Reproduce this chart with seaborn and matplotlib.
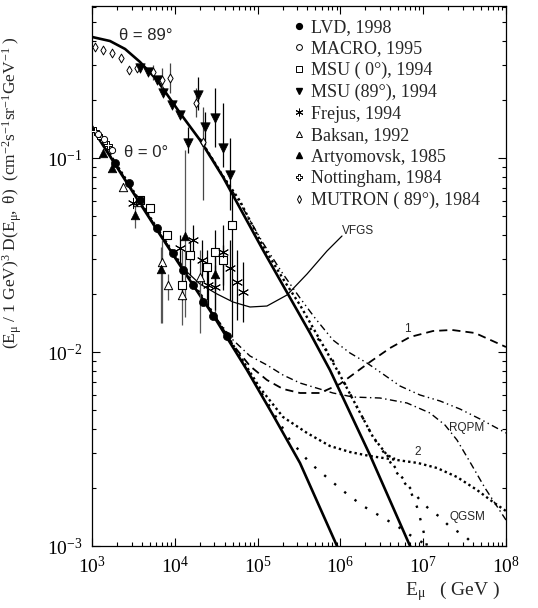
import numpy as np
import matplotlib
matplotlib.use("Agg")
import matplotlib.pyplot as plt
import seaborn as sns
from matplotlib.lines import Line2D
from matplotlib.ticker import LogLocator, NullFormatter

# ---------------- model curves (E in GeV, F = (E/1GeV)^3 D) ----------------
conv89_E = [1000, 1650, 2506, 3802, 6095, 11560, 20140, 38190, 116100, 429500, 748200, 2275000, 6934000, 8650000]
conv89_F = [0.4207, 0.4009, 0.3648, 0.3126, 0.2523, 0.1706, 0.1238, 0.0798, 0.03355, 0.01253, 0.00807, 0.002944, 0.001, 0.000888]

conv0_E = [1000, 2178, 6095, 12560, 28910, 74470, 153500, 325100, 909900, 1045000]
conv0_F = [0.1428, 0.0847, 0.04256, 0.02648, 0.01552, 0.00807, 0.004732, 0.002678, 0.001, 0.000888]

vfgs_E = [10050, 14030, 20140, 32360, 50470, 80910, 129700, 226500, 395400, 688700, 1045000]
vfgs_F = [0.03051, 0.02585, 0.02241, 0.01991, 0.01810, 0.01706, 0.01726, 0.01967, 0.02524, 0.03316, 0.03962]

m1_E = [1000, 6095, 20140, 33270, 50470, 80910, 129700, 202800, 325100, 567500, 988600, 1500000,
        2275000, 3972000, 6934000, 13130000, 22280000, 42270000, 100000000]
m1_F = [0.1445, 0.04305, 0.01967, 0.01445, 0.01087, 0.008468, 0.007172, 0.006447, 0.006148, 0.006148,
        0.006842, 0.007793, 0.008882, 0.01048, 0.01195, 0.01283, 0.01299, 0.01253, 0.01061]

rqpm0_E = [1000, 6095, 28910, 50470, 80910, 129700, 202800, 325100, 812800, 1419000, 3006000, 6368000,
           12080000, 18320000, 25590000, 36730000, 55720000, 100000000]
rqpm0_F = [0.1445, 0.04305, 0.01570, 0.01153, 0.009537, 0.008570, 0.007609, 0.006921, 0.006148, 0.005861,
           0.005792, 0.005459, 0.004849, 0.004204, 0.003518, 0.002710, 0.001991, 0.001361]

rqpm89_E = [20140, 38190, 61240, 116100, 202800, 325100, 493300, 812800, 1306000, 2094000, 3266000,
            5248000, 9141000, 15960000, 27800000, 48530000, 100000000]
rqpm89_F = [0.1253, 0.08072, 0.05861, 0.03646, 0.02524, 0.01899, 0.01497, 0.01153, 0.009881, 0.008777,
            0.007700, 0.006679, 0.006004, 0.005591, 0.005083, 0.004515, 0.003824]

m2_0_E = [1000, 6095, 28910, 61240, 106900, 202800, 395400, 748200, 1306000, 2275000, 4831000, 8650000,
          14690000, 25590000, 44670000, 69660000, 100000000]
m2_0_F = [0.1462, 0.04357, 0.01589, 0.009537, 0.006523, 0.004623, 0.003824, 0.003276, 0.003051, 0.002909,
          0.002775, 0.002678, 0.002524, 0.002268, 0.001944, 0.001686, 0.001514]

m2_89_E = [20140, 38190, 61240, 116100, 214300, 325100, 567500, 988600, 1585000, 2477000, 3656000, 4560000]
m2_89_F = [0.1253, 0.08072, 0.06004, 0.03518, 0.02295, 0.01747, 0.01153, 0.007609, 0.005205, 0.003646,
           0.002944, 0.002809]

qgsm89_E = [429500, 748200, 1074000, 1585000, 2477000, 3656000, 4831000, 6934000, 8414000, 9661000, 11110000, 12080000]
qgsm89_F = [0.01330, 0.009649, 0.007172, 0.005205, 0.003646, 0.002876, 0.002378, 0.001944, 0.001589,
            0.001283, 0.001, 0.000888]

qgsm_E = [3656000, 4966000, 6934000, 9141000, 12080000, 15960000, 21090000, 27800000, 33810000, 42270000, 48530000]
qgsm_F = [0.002944, 0.002406, 0.001991, 0.001726, 0.001533, 0.001411, 0.001253, 0.001167, 0.001099, 0.001, 0.000931]

qgsm0_E = [20140, 61240, 80910, 141300, 246000, 429500, 748200, 1202000, 1875000, 3006000, 4831000,
           6934000, 9141000, 11430000, 13490000]
qgsm0_F = [0.01991, 0.009423, 0.007700, 0.005205, 0.003518, 0.002678, 0.002188, 0.001854, 0.001608,
           0.001428, 0.001268, 0.001139, 0.001061, 0.001, 0.000931]

# ---------------- experimental data ----------------
lvd_E = [1897, 2799, 3802, 6095, 9506, 12560, 16600, 21930, 28910, 42660]
lvd_F = [0.09423, 0.07430, 0.06075, 0.04357, 0.03238, 0.02648, 0.02215, 0.01810, 0.01533, 0.01209]

macro_E = [1181, 1396, 1745]
macro_F = [0.1330, 0.1253, 0.1100]

notting_E = [1087, 1285, 1560]
notting_F = [0.1377, 0.1268, 0.1167]

artyom_E = [1358, 1745, 3304, 6808, 13270, 30550]
artyom_F = [0.1061, 0.08882, 0.05083, 0.02679, 0.03962, 0.02524]
artyom_lo = [0.1061, 0.08882, 0.04357, 0.01411, 0.01515, 0.01515]
artyom_hi = [0.1061, 0.08882, 0.05723, 0.03477, 0.1100, 0.03088]

baksan_E = [2366, 3491, 6998, 8279, 12220, 20140]
baksan_F = [0.07087, 0.05933, 0.02909, 0.02215, 0.01967, 0.02435]
baksan_lo = [0.07087, 0.05933, 0.01411, 0.01854, 0.01378, 0.01253]
baksan_hi = [0.07087, 0.05933, 0.03778, 0.02524, 0.03355, 0.03355]

msu0_E = [3802, 5012, 8054, 12220, 15280, 24490, 30550, 38190, 49090]
msu0_F = [0.06075, 0.05525, 0.04008, 0.02215, 0.03162, 0.02741, 0.03277, 0.02979, 0.04515]
msu0_lo = [0.06075, 0.05525, 0.04008, 0.01854, 0.02494, 0.01854, 0.02087, 0.02215, 0.01195]
msu0_hi = [0.06075, 0.05525, 0.04008, 0.02648, 0.03778, 0.03355, 0.04256, 0.03559, 0.06447]

frejus_E = [3126, 11560, 16600, 21280, 25180, 30550, 38190, 46450, 56360, 66680]
frejus_F = [0.05861, 0.03437, 0.03778, 0.02979, 0.02215, 0.02163, 0.03277, 0.02710, 0.02295, 0.02038]
frejus_lo = [0.05861, 0.02809, 0.02979, 0.02215, 0.01747, 0.01646, 0.02087, 0.01854, 0.01462, 0.01428]
frejus_hi = [0.05861, 0.04008, 0.04515, 0.03778, 0.02809, 0.02809, 0.04515, 0.03778, 0.03355, 0.02909]

msu89_E = [3802, 4742, 6095, 7194, 9247, 11560, 14420, 19050, 23170, 30550, 38190, 46450]
msu89_F = [0.2910, 0.2775, 0.2523, 0.2163, 0.1876, 0.1665, 0.1195, 0.2112, 0.1445, 0.1607, 0.1126, 0.08175]
msu89_lo = [0.2910, 0.2775, 0.2523, 0.2163, 0.1876, 0.1665, 0.1061, 0.1768, 0.1167, 0.1139, 0.08986, 0.05395]
msu89_hi = [0.2910, 0.2775, 0.2523, 0.2163, 0.1876, 0.1665, 0.1445, 0.2615, 0.1726, 0.2295, 0.1921, 0.1268]

mutron_E = [1087, 1358, 1745, 2239, 2799, 3491, 5458, 6998, 8750, 18030, 21930]
mutron_F = [0.3734, 0.3603, 0.3477, 0.3278, 0.2842, 0.2910, 0.2775, 0.2523, 0.2585, 0.1921, 0.1209]
mutron_lo = [0.3734, 0.3603, 0.3477, 0.3278, 0.2842, 0.2910, 0.2523, 0.2188, 0.2163, 0.1627, 0.06075]
mutron_hi = [0.3734, 0.3603, 0.3477, 0.3278, 0.2842, 0.2910, 0.3016, 0.2910, 0.3088, 0.2295, 0.1832]

legend_labels = ["LVD, 1998", "MACRO, 1995", "MSU ( 0°), 1994", "MSU (89°), 1994", "Frejus, 1994",
                 "Baksan, 1992", "Artyomovsk, 1985", "Nottingham, 1984", "MUTRON ( 89°), 1984"]

# ---------------- style ----------------
sns.set_theme(style="ticks")
plt.rcParams["font.family"] = ["Liberation Serif", "DejaVu Serif"]
plt.rcParams["mathtext.fontset"] = "custom"
plt.rcParams["mathtext.rm"] = "Liberation Serif"
plt.rcParams["mathtext.it"] = "Liberation Serif:italic"
plt.rcParams["mathtext.sf"] = "Liberation Sans"
plt.rcParams["axes.unicode_minus"] = False

fig = plt.figure(figsize=(5.38, 6.08), dpi=100)
ax = fig.add_axes([92 / 538, 1 - 546 / 608, 414 / 538, 540 / 608])
ax.set_xscale("log")
ax.set_yscale("log")
ax.set_xlim(1e3, 1e8)
ax.set_ylim(1e-3, 0.6075)


def curve(E, F, **kw):
    sns.lineplot(x=E, y=F, ax=ax, estimator=None, sort=False, color="black", legend=False, **kw)


curve(conv89_E, conv89_F, linewidth=1.9)
curve(conv0_E, conv0_F, linewidth=1.9)
curve(vfgs_E, vfgs_F, linewidth=0.9)
curve(m1_E, m1_F, linewidth=1.3, linestyle=(0, (4.5, 2.8)))
curve(rqpm0_E, rqpm0_F, linewidth=1.0, linestyle=(0, (5, 2.5, 1, 2.5)))
curve(rqpm89_E, rqpm89_F, linewidth=1.0, linestyle=(0, (5, 2.5, 1, 2.5, 1, 2.5)))
curve(m2_0_E, m2_0_F, linewidth=1.7, linestyle=(0, (1, 1.3)))
curve(m2_89_E, m2_89_F, linewidth=1.7, linestyle=(0, (1, 1.3)))
curve(qgsm89_E, qgsm89_F, linewidth=1.7, linestyle=(0, (1, 4.5)))
curve(qgsm_E, qgsm_F, linewidth=1.7, linestyle=(0, (1, 4.5)))
curve(qgsm0_E, qgsm0_F, linewidth=1.7, linestyle=(0, (1, 4.5)))

# error bars
for E, lo, hi, col in [(artyom_E, artyom_lo, artyom_hi, "#555555"),
                       (baksan_E, baksan_lo, baksan_hi, "#555555"),
                       (msu0_E, msu0_lo, msu0_hi, "black"),
                       (frejus_E, frejus_lo, frejus_hi, "black"),
                       (msu89_E, msu89_lo, msu89_hi, "black"),
                       (mutron_E, mutron_lo, mutron_hi, "#444444")]:
    ax.vlines(E, lo, hi, colors=col, linewidth=0.9, zorder=2)

sc = dict(ax=ax, legend=False, zorder=4)
sns.scatterplot(x=mutron_E, y=mutron_F, marker="d", s=20, color="white", edgecolor="black", linewidth=0.7, **sc)
sns.scatterplot(x=notting_E, y=notting_F, marker="P", s=26, color="white", edgecolor="black", linewidth=0.7, **sc)
sns.scatterplot(x=macro_E, y=macro_F, marker="o", s=20, color="white", edgecolor="black", linewidth=0.7, **sc)
sns.scatterplot(x=baksan_E, y=baksan_F, marker="^", s=36, color="white", edgecolor="black", linewidth=0.7, **sc)
sns.scatterplot(x=msu0_E, y=msu0_F, marker="s", s=36, color="white", edgecolor="black", linewidth=0.8, **sc)
sns.scatterplot(x=frejus_E, y=frejus_F, marker=(6, 2, 0), s=55, color="black", linewidth=0.7, **sc)
sns.scatterplot(x=artyom_E, y=artyom_F, marker="^", s=38, color="black", edgecolor="black", linewidth=0.5, **sc)
sns.scatterplot(x=msu89_E, y=msu89_F, marker="v", s=46, color="black", edgecolor="black", linewidth=0.5, **sc)
sns.scatterplot(x=lvd_E, y=lvd_F, marker="o", s=34, color="black", edgecolor="black", linewidth=0.5, **sc)

# ---------------- axes cosmetics ----------------
ax.xaxis.set_major_locator(LogLocator(base=10, numticks=12))
ax.xaxis.set_minor_locator(LogLocator(base=10, subs=np.arange(2, 10), numticks=100))
ax.yaxis.set_major_locator(LogLocator(base=10, numticks=12))
ax.yaxis.set_minor_locator(LogLocator(base=10, subs=np.arange(2, 10), numticks=100))
ax.xaxis.set_minor_formatter(NullFormatter())
ax.yaxis.set_minor_formatter(NullFormatter())
ax.tick_params(which="both", direction="in", top=True, right=True, width=0.8, colors="black")
ax.tick_params(which="major", length=5.5, labelsize=14, pad=7)
ax.tick_params(which="minor", length=2.8)
for s in ax.spines.values():
    s.set_linewidth(0.9)
    s.set_color("black")

ax.set_ylabel(r"$\mathdefault{(E_{μ}\ /\ 1\ GeV)^{3}\ D(E_{μ},\ θ)\ \ (cm^{-2}s^{-1}sr^{-1}GeV^{-1}\ )}$",
              fontsize=12.5)
ax.yaxis.set_label_coords(-0.165, 0.655)
ax.set_xlabel(r"$\mathdefault{E_{μ}}$   ( GeV )", fontsize=14)
ax.xaxis.set_label_coords(0.87, -0.062)

sans = ["Liberation Sans", "DejaVu Sans"]
ax.text(0.130, 0.946, "θ = 89°", transform=ax.transAxes, ha="center", va="center", fontsize=12, family=sans)
ax.text(0.130, 0.728, "θ = 0°", transform=ax.transAxes, ha="center", va="center", fontsize=12, family=sans)
ax.text(0.643, 0.583, "VFGS", transform=ax.transAxes, ha="center", va="center", fontsize=8.5, family=sans)
ax.text(0.761, 0.402, "1", transform=ax.transAxes, ha="center", va="center", fontsize=8.5, family=sans)
ax.text(0.787, 0.174, "2", transform=ax.transAxes, ha="center", va="center", fontsize=8.5, family=sans)
ax.text(0.906, 0.2185, "RQPM", transform=ax.transAxes, ha="center", va="center", fontsize=8.5, family=sans)
ax.text(0.906, 0.0537, "QGSM", transform=ax.transAxes, ha="center", va="center", fontsize=8.5, family=sans)

# ---------------- legend ----------------
mk = dict(ls="none", color="black")
handles = [
    Line2D([], [], marker="o", mfc="black", mec="black", ms=4.2, **mk),
    Line2D([], [], marker="o", mfc="white", mec="black", ms=4.2, mew=0.7, **mk),
    Line2D([], [], marker="s", mfc="white", mec="black", ms=4.2, mew=0.7, **mk),
    Line2D([], [], marker="v", mfc="black", mec="black", ms=4.6, **mk),
    Line2D([], [], marker=(6, 2, 0), mec="black", ms=5.5, mew=0.7, **mk),
    Line2D([], [], marker="^", mfc="white", mec="black", ms=4.6, mew=0.7, **mk),
    Line2D([], [], marker="^", mfc="black", mec="black", ms=4.6, **mk),
    Line2D([], [], marker="P", mfc="white", mec="black", ms=4.6, mew=0.7, **mk),
    Line2D([], [], marker="d", mfc="white", mec="black", ms=4.2, mew=0.7, **mk),
]
leg = fig.legend(handles, legend_labels, loc="upper left", bbox_to_anchor=(294 / 538, 1 - 19 / 608),
                 frameon=False, fontsize=13, handlelength=0.6, handletextpad=0.35, labelspacing=0.25,
                 borderpad=0, borderaxespad=0)

fig.savefig("out.png", dpi=100)
